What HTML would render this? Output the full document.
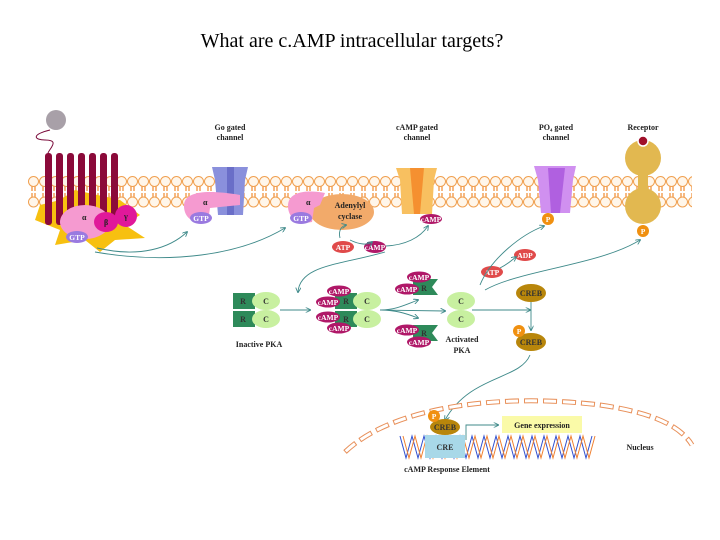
<!DOCTYPE html>
<html><head><meta charset="utf-8"><style>
body{margin:0;background:#fff}
svg{display:block}
.t{font-family:"Liberation Serif",serif;font-weight:bold;font-size:8px;fill:#222}
.w{font-family:"Liberation Serif",serif;font-weight:bold;font-size:7.5px;fill:#fff}
.k{font-family:"Liberation Serif",serif;font-weight:bold;font-size:8px;fill:#333}
</style></head><body>
<svg width="720" height="540" viewBox="0 0 720 540" xmlns="http://www.w3.org/2000/svg">
<defs>
<pattern id="lip" x="28" y="176" width="11" height="32" patternUnits="userSpaceOnUse">
<path d="M4 6 L4 15 M7 6 L7 15 M4 17 L4 26 M7 17 L7 26" stroke="#f08a30" stroke-width="1.2"/>
<circle cx="5.5" cy="5.5" r="5" fill="#fff6ea" stroke="#f0a050" stroke-width="1"/>
<circle cx="5.5" cy="26" r="5" fill="#fff6ea" stroke="#f0a050" stroke-width="1"/>
</pattern>
<marker id="ar" markerWidth="6" markerHeight="6" refX="5" refY="3" orient="auto"><path d="M0 0 L6 3 L0 6" fill="none" stroke="#3f8a8a" stroke-width="1"/></marker>
</defs>
<text x="352" y="47" text-anchor="middle" font-family="Liberation Serif,serif" font-size="20" fill="#000">What are c.AMP intracellular targets?</text>

<rect x="28" y="176" width="664" height="32" fill="url(#lip)"/>

<circle cx="56" cy="120" r="10" fill="#a8a0a8"/>
<path d="M50 130 C30 135 35 140 45 140 C60 140 50 148 48 153" fill="none" stroke="#7a0a3a" stroke-width="1"/>
<path d="M40 205 L60 200 L75 190 L120 200 L140 215 L125 225 L145 238 L115 240 L100 252 L85 240 L55 245 L60 230 L35 220 Z" fill="#f7c010"/>
<g fill="#8b0a3a">
<rect x="45" y="153" width="7" height="72" rx="3"/><rect x="56" y="153" width="7" height="72" rx="3"/><rect x="67" y="153" width="7" height="72" rx="3"/><rect x="78" y="153" width="7" height="72" rx="3"/><rect x="89" y="153" width="7" height="72" rx="3"/><rect x="100" y="153" width="7" height="72" rx="3"/><rect x="111" y="153" width="7" height="72" rx="3"/>
</g>
<ellipse cx="85" cy="222" rx="25" ry="17" fill="#f59ad0"/>
<ellipse cx="106" cy="222" rx="12" ry="10" fill="#e0189a"/>
<ellipse cx="126" cy="216" rx="11" ry="11" fill="#e0189a"/>
<text x="82" y="220" class="t" fill="#333">α</text><text x="104" y="225" class="t">β</text><text x="124" y="219" class="t">γ</text>
<ellipse cx="77" cy="237" rx="11" ry="6" fill="#9a7ae0"/><text x="77" y="240" class="w" text-anchor="middle">GTP</text>

<text x="230" y="130" class="t" text-anchor="middle">Go gated</text><text x="230" y="140" class="t" text-anchor="middle">channel</text>
<path d="M212 167 L248 167 L245 180 L243 215 L218 215 L215 180 Z" fill="#8a90dc"/>
<rect x="227" y="167" width="7" height="48" fill="#6a6ec8"/>
<path d="M184 206 C184 190 210 190 240 195 L240 205 L210 208 L208 222 C194 225 184 218 184 206Z" fill="#f59ad0"/>
<text x="203" y="205" class="t">α</text>
<ellipse cx="201" cy="218" rx="11" ry="6" fill="#9a7ae0"/><text x="201" y="221" class="w" text-anchor="middle">GTP</text>

<ellipse cx="342" cy="212" rx="32" ry="18" fill="#f2aa6a"/>
<path d="M288 206 C288 190 310 190 325 193 L320 205 L314 208 L312 222 C298 225 288 218 288 206Z" fill="#f59ad0"/>
<text x="306" y="205" class="t">α</text>
<ellipse cx="301" cy="218" rx="11" ry="6" fill="#9a7ae0"/><text x="301" y="221" class="w" text-anchor="middle">GTP</text>
<text x="350" y="208" class="t" text-anchor="middle">Adenylyl</text><text x="350" y="219" class="t" text-anchor="middle">cyclase</text>
<ellipse cx="343" cy="247" rx="11" ry="6" fill="#e04a4a"/><text x="343" y="250" class="w" text-anchor="middle">ATP</text>
<ellipse cx="375" cy="247" rx="11" ry="6" fill="#b01868"/><text x="375" y="250" class="w" text-anchor="middle">cAMP</text>

<text x="417" y="130" class="t" text-anchor="middle">cAMP gated</text><text x="417" y="140" class="t" text-anchor="middle">channel</text>
<path d="M396 168 L437 168 L434 180 L432 214 L402 214 L400 180 Z" fill="#f8c060"/>
<path d="M410 168 L424 168 L420 214 L414 214 Z" fill="#f59030"/>
<ellipse cx="431" cy="219" rx="11" ry="5" fill="#b01868"/><text x="431" y="222" class="w" text-anchor="middle">cAMP</text>

<text x="556" y="130" class="t" text-anchor="middle">PO₄ gated</text><text x="556" y="140" class="t" text-anchor="middle">channel</text>
<path d="M534 166 L576 166 L573 180 L570 213 L541 213 L538 180 Z" fill="#d090f0"/>
<path d="M548 168 L565 168 L560 213 L551 213 Z" fill="#b060e0"/>
<circle cx="548" cy="219" r="6" fill="#f09010"/><text x="548" y="222" class="w" text-anchor="middle">P</text>

<text x="643" y="130" class="t" text-anchor="middle">Receptor</text>
<circle cx="643" cy="158" r="18" fill="#e2b850"/>
<rect x="638" y="170" width="10" height="25" fill="#e2b850"/>
<circle cx="643" cy="206" r="18" fill="#e2b850"/>
<circle cx="643" cy="141" r="5" fill="#a0102a" stroke="#fff" stroke-width="1.5"/>
<circle cx="643" cy="231" r="6" fill="#f09010"/><text x="643" y="234" class="w" text-anchor="middle">P</text>

<ellipse cx="525" cy="255" rx="11" ry="6" fill="#e04a4a"/><text x="525" y="258" class="w" text-anchor="middle">ADP</text>
<ellipse cx="492" cy="272" rx="11" ry="6" fill="#e04a4a"/><text x="492" y="275" class="w" text-anchor="middle">ATP</text>

<g fill="none" stroke="#3f8a8a" stroke-width="0.9" marker-end="url(#ar)">
<path d="M97 248 C140 258 170 248 187 232"/>
<path d="M95 252 C170 265 240 255 285 228"/>
<path d="M340 238 C338 230 342 226 346 225"/>
<path d="M350 240 C360 245 368 245 372 242"/>
<path d="M386 246 C405 245 420 238 428 226"/>
<path d="M385 252 C340 265 300 265 298 292"/>
<path d="M480 285 C490 260 520 235 544 226"/>
<path d="M500 268 C508 264 512 260 516 257"/>
<path d="M485 290 C520 270 600 265 640 240"/>
<path d="M280 310 L310 310"/>
<path d="M380 310 C395 310 405 305 418 300"/>
<path d="M380 310 C395 310 405 313 418 318"/>
<path d="M380 310 L445 311"/>
<path d="M472 310 L530 310"/>
<path d="M531 300 L531 330"/>
<path d="M530 355 C520 380 470 375 445 420"/>
<path d="M466 440 L466 425 L498 425"/>
</g>

<g>
<rect x="233" y="293" width="22" height="16" fill="#2e8a5a"/><rect x="233" y="311" width="22" height="16" fill="#2e8a5a"/>
<ellipse cx="266" cy="301" rx="14" ry="9" fill="#c8f0a0"/><ellipse cx="266" cy="319" rx="14" ry="9" fill="#c8f0a0"/>
<text x="243" y="304" class="k" text-anchor="middle">R</text><text x="243" y="322" class="k" text-anchor="middle">R</text>
<text x="266" y="304" class="k" text-anchor="middle">C</text><text x="266" y="322" class="k" text-anchor="middle">C</text>
<text x="259" y="347" class="t" text-anchor="middle">Inactive PKA</text>
</g>
<g>
<rect x="335" y="293" width="22" height="16" fill="#2e8a5a"/><rect x="335" y="311" width="22" height="16" fill="#2e8a5a"/>
<ellipse cx="367" cy="301" rx="14" ry="9" fill="#c8f0a0"/><ellipse cx="367" cy="319" rx="14" ry="9" fill="#c8f0a0"/>
<text x="346" y="304" class="k" text-anchor="middle">R</text><text x="346" y="322" class="k" text-anchor="middle">R</text>
<text x="367" y="304" class="k" text-anchor="middle">C</text><text x="367" y="322" class="k" text-anchor="middle">C</text>
<ellipse cx="339" cy="291" rx="12" ry="5.5" fill="#b01868"/><text x="339" y="294" class="w" text-anchor="middle">cAMP</text>
<ellipse cx="328" cy="302" rx="12" ry="5.5" fill="#b01868"/><text x="328" y="305" class="w" text-anchor="middle">cAMP</text>
<ellipse cx="328" cy="317" rx="12" ry="5.5" fill="#b01868"/><text x="328" y="320" class="w" text-anchor="middle">cAMP</text>
<ellipse cx="339" cy="328" rx="12" ry="5.5" fill="#b01868"/><text x="339" y="331" class="w" text-anchor="middle">cAMP</text>
</g>
<g>
<path d="M413 279 L438 279 L432 287 L438 295 L413 295 Z" fill="#2e8a5a"/>
<text x="424" y="291" class="k" text-anchor="middle">R</text>
<ellipse cx="419" cy="277" rx="12" ry="5.5" fill="#b01868"/><text x="419" y="280" class="w" text-anchor="middle">cAMP</text>
<ellipse cx="407" cy="289" rx="12" ry="5.5" fill="#b01868"/><text x="407" y="292" class="w" text-anchor="middle">cAMP</text>
<path d="M413 325 L438 325 L432 333 L438 341 L413 341 Z" fill="#2e8a5a"/>
<text x="424" y="336" class="k" text-anchor="middle">R</text>
<ellipse cx="407" cy="330" rx="12" ry="5.5" fill="#b01868"/><text x="407" y="333" class="w" text-anchor="middle">cAMP</text>
<ellipse cx="419" cy="342" rx="12" ry="5.5" fill="#b01868"/><text x="419" y="345" class="w" text-anchor="middle">cAMP</text>
</g>
<ellipse cx="461" cy="301" rx="14" ry="9" fill="#c8f0a0"/><ellipse cx="461" cy="319" rx="14" ry="9" fill="#c8f0a0"/>
<text x="461" y="304" class="k" text-anchor="middle">C</text><text x="461" y="322" class="k" text-anchor="middle">C</text>
<text x="462" y="342" class="t" text-anchor="middle">Activated</text><text x="462" y="353" class="t" text-anchor="middle">PKA</text>

<ellipse cx="531" cy="293" rx="15" ry="9" fill="#b8860b"/><text x="531" y="296" class="k" text-anchor="middle">CREB</text>
<ellipse cx="531" cy="342" rx="15" ry="9" fill="#b8860b"/><text x="531" y="345" class="k" text-anchor="middle">CREB</text>
<circle cx="519" cy="331" r="6" fill="#f09010"/><text x="519" y="334" class="w" text-anchor="middle">P</text>

<path d="M345 452 C400 400 520 395 600 405 C650 412 680 425 692 445" fill="none" stroke="#e8905a" stroke-width="5" stroke-dasharray="14 5"/>
<path d="M345 452 C400 400 520 395 600 405 C650 412 680 425 692 445" fill="none" stroke="#fff" stroke-width="3" stroke-dasharray="12 7" stroke-dashoffset="-1"/>
<text x="640" y="450" class="t" text-anchor="middle">Nucleus</text>
<g fill="none" stroke-width="1">
<path d="M400 436 q3 11 6 22 q3 -11 6 -22 q3 11 6 22 q3 -11 6 -22 q3 11 6 22 q3 -11 6 -22 q3 11 6 22 q3 -11 6 -22 q3 11 6 22 q3 -11 6 -22 q3 11 6 22 q3 -11 6 -22 q3 11 6 22 q3 -11 6 -22 q3 11 6 22 q3 -11 6 -22 q3 11 6 22 q3 -11 6 -22 q3 11 6 22 q3 -11 6 -22 q3 11 6 22 q3 -11 6 -22 q3 11 6 22 q3 -11 6 -22 q3 11 6 22 q3 -11 6 -22 q3 11 6 22 q3 -11 6 -22 q3 11 6 22 q3 -11 6 -22 q3 11 6 22 q3 -11 6 -22" stroke="#3050d0"/>
<path d="M403 436 q3 11 6 22 q3 -11 6 -22 q3 11 6 22 q3 -11 6 -22 q3 11 6 22 q3 -11 6 -22 q3 11 6 22 q3 -11 6 -22 q3 11 6 22 q3 -11 6 -22 q3 11 6 22 q3 -11 6 -22 q3 11 6 22 q3 -11 6 -22 q3 11 6 22 q3 -11 6 -22 q3 11 6 22 q3 -11 6 -22 q3 11 6 22 q3 -11 6 -22 q3 11 6 22 q3 -11 6 -22 q3 11 6 22 q3 -11 6 -22 q3 11 6 22 q3 -11 6 -22 q3 11 6 22 q3 -11 6 -22 q3 11 6 22 q3 -11 6 -22 q3 11 6 22 q3 -11 6 -22" stroke="#f08030"/>
</g>
<rect x="425" y="435" width="40" height="23" fill="#a8d8e8"/>
<text x="445" y="450" class="k" text-anchor="middle" font-weight="normal">CRE</text>
<ellipse cx="445" cy="427" rx="15" ry="8" fill="#b8860b"/><text x="445" y="430" class="k" text-anchor="middle">CREB</text>
<circle cx="434" cy="416" r="6" fill="#f09010"/><text x="434" y="419" class="w" text-anchor="middle">P</text>
<rect x="502" y="416" width="80" height="17" fill="#fafaa8"/>
<text x="542" y="428" class="t" text-anchor="middle">Gene expression</text>
<text x="447" y="472" class="t" text-anchor="middle">cAMP Response Element</text>
</svg>
</body></html>
